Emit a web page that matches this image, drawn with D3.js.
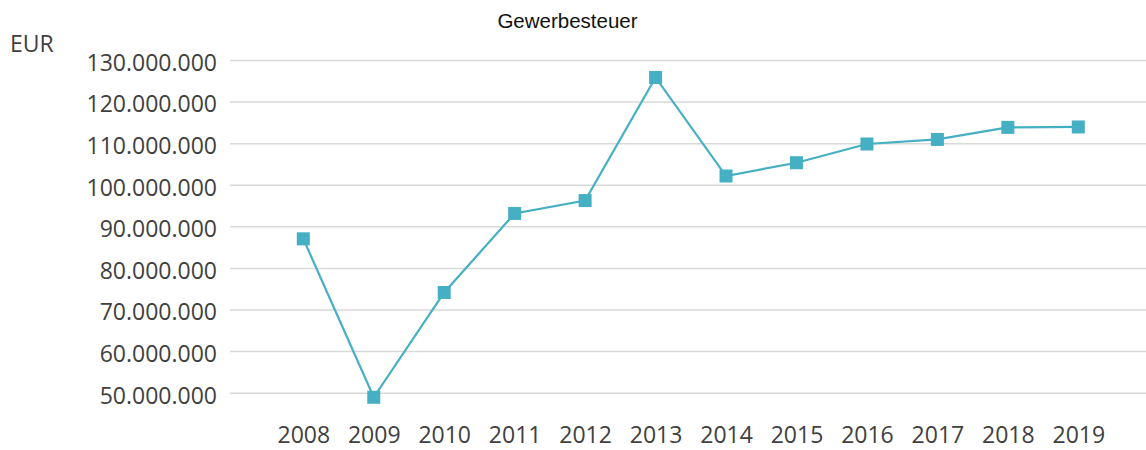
<!DOCTYPE html>
<html>
<head>
<meta charset="utf-8">
<script src="https://cdn.jsdelivr.net/npm/d3@7"></script>
<style>
  html, body { margin: 0; padding: 0; background: #fff; }
  svg { display: block; }
</style>
</head>
<body>
<svg id="chart" width="1146" height="450"></svg>
<script>
// Gewerbesteuer (trade tax) revenue per year, in EUR
const years = ["2008", "2009", "2010", "2011", "2012", "2013", "2014", "2015", "2016", "2017", "2018", "2019"];
const revenue = [87000000, 48900000, 74100000, 93100000, 96200000, 125800000, 102100000, 105300000, 109800000, 110900000, 113800000, 113900000];
const yTicks = [50000000, 60000000, 70000000, 80000000, 90000000, 100000000, 110000000, 120000000, 130000000];

const svg = d3.select("#chart");
const W = 1146;
const color = "#45afc3";
const textColor = "#404040";
const labelFont = "'Open Sans', 'Liberation Sans', sans-serif";

const x = d3.scalePoint().domain(years).range([303.3, 1078.3]);
const y = d3.scaleLinear().domain([50000000, 130000000]).range([392.7, 60]);

// German thousands separator
const fmt = v => d3.format(",")(v).replace(/,/g, ".");

// Title
svg.append("text")
  .attr("x", 567.5).attr("y", 28)
  .attr("text-anchor", "middle")
  .style("font-family", "'Liberation Sans', Arial, sans-serif")
  .style("font-size", "20.5px")
  .attr("fill", "#111")
  .text("Gewerbesteuer");

// Unit label
svg.append("text")
  .attr("x", 10).attr("y", 52)
  .style("font-family", labelFont)
  .style("font-size", "23px")
  .attr("fill", textColor)
  .text("EUR");

// Horizontal gridlines and y tick labels
const yAxis = d3.axisLeft(y)
  .tickValues(yTicks)
  .tickFormat(fmt)
  .tickSize(-(W - 230))
  .tickPadding(13);

const gy = svg.append("g")
  .attr("transform", "translate(230,0)")
  .call(yAxis);
gy.select(".domain").remove();
gy.selectAll(".tick line").attr("stroke", "#d9d9d9").attr("stroke-width", 1.5);
gy.selectAll(".tick text")
  .attr("dy", "0.45em")
  .attr("fill", textColor)
  .style("font-family", labelFont)
  .style("font-size", "23px");

// X tick labels
const xAxis = d3.axisBottom(x).tickSize(0).tickPadding(0);
const gx = svg.append("g")
  .attr("transform", "translate(0,443)")
  .call(xAxis);
gx.select(".domain").remove();
gx.selectAll(".tick text")
  .attr("dy", "0")
  .attr("fill", textColor)
  .style("font-family", labelFont)
  .style("font-size", "23px");

// Series line
const data = years.map((yr, i) => ({ year: yr, value: revenue[i] }));
svg.append("path")
  .datum(data)
  .attr("fill", "none")
  .attr("stroke", color)
  .attr("stroke-width", 2.2)
  .attr("d", d3.line().x(d => x(d.year)).y(d => y(d.value)));

// Square markers
const s = 13;
svg.append("g").selectAll("rect")
  .data(data)
  .join("rect")
  .attr("x", d => x(d.year) - s / 2)
  .attr("y", d => y(d.value) - s / 2)
  .attr("width", s)
  .attr("height", s)
  .attr("fill", color);
</script>
</body>
</html>
